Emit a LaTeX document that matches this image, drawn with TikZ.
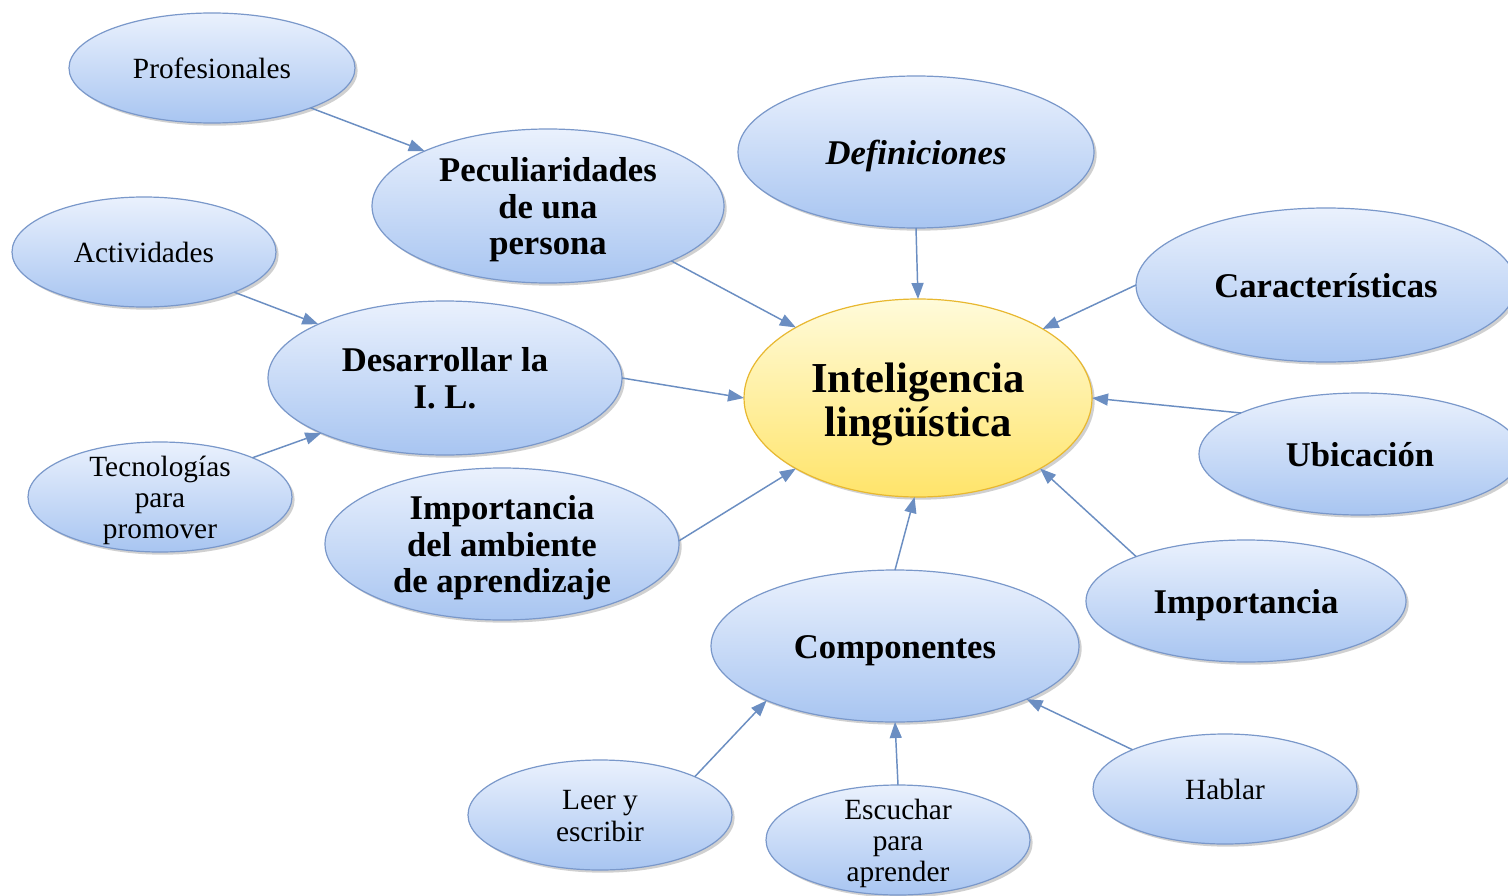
\documentclass[tikz,border=0pt]{standalone}
\usepackage{fontspec}
\setmainfont{Liberation Serif}
\usetikzlibrary{shapes.geometric,shadows,arrows.meta}
\definecolor{btop}{HTML}{EAF1FD}
\definecolor{bbot}{HTML}{A8C5F1}
\definecolor{bdraw}{HTML}{7A98CA}
\definecolor{ytop}{HTML}{FFFBDA}
\definecolor{ymid}{HTML}{FFF29E}
\definecolor{ybot}{HTML}{FFE46A}
\definecolor{ydraw}{HTML}{E8B830}
\definecolor{arrc}{HTML}{6B8EC2}
\newcommand{\lbl}[1]{\smash{\raisebox{-0.38em}{\begin{tabular}{@{}c@{}}#1\end{tabular}}}}
\begin{document}
\begin{tikzpicture}[x=0.75pt,y=-0.75pt,
  bub/.style n args={2}{ellipse, inner sep=0pt, outer sep=0pt,
     minimum width=#1*1.5pt, minimum height=#2*1.5pt,
     draw=bdraw, line width=0.9pt, top color=btop, bottom color=bbot,
     drop shadow={shadow xshift=2pt,shadow yshift=-2pt,opacity=0.3,fill=black!60}},
  center/.style={ellipse, inner sep=0pt, outer sep=0pt,
     minimum width=348*0.75pt, minimum height=198*0.75pt,
     draw=ydraw, line width=0.9pt, top color=ytop, middle color=ymid, bottom color=ybot,
     drop shadow={shadow xshift=2pt,shadow yshift=-2pt,opacity=0.3,fill=black!60}},
  small/.style={font=\fontsize{22}{23.5}\selectfont},
  big/.style={font=\fontsize{26}{27.5}\selectfont\bfseries},
  huge/.style={font=\fontsize{32}{33}\selectfont\bfseries},
  arr/.style={draw=arrc, line width=1.1pt, -{Triangle[length=12pt,width=9pt]}, arrc}]
\useasboundingbox (0,0) rectangle (1508,895);
\fill[white] (0,0) rectangle (1508,895);

\node[bub={143}{55}, small] (prof) at (212,68) {\lbl{Profesionales}};
\node[bub={176}{77}, big] (pec) at (548,206) {\lbl{Peculiaridades\\de una\\persona}};
\node[bub={178}{76}, big] (def) at (916,152) {\lbl{\itshape Definiciones}};
\node[bub={190}{77}, big] (car) at (1326,285) {\lbl{Características}};
\node[bub={132}{55}, small] (act) at (144,252) {\lbl{Actividades}};
\node[bub={177}{77}, big] (des) at (445,378) {\lbl{Desarrollar la\\I. L.}};
\node[center, huge] (intel) at (918,398) {\lbl{Inteligencia\\lingüística}};
\node[bub={161}{61}, big] (ubi) at (1360,454) {\lbl{Ubicación}};
\node[bub={132}{55}, small] (tec) at (160,497) {\lbl{Tecnologías\\para\\promover}};
\node[bub={177}{76}, big] (amb) at (502,544) {\lbl{Importancia\\del ambiente\\de aprendizaje}};
\node[bub={160}{61}, big] (imp) at (1246,601) {\lbl{Importancia}};
\node[bub={184}{76}, big] (comp) at (895,646) {\lbl{Componentes}};
\node[bub={132}{55}, small] (leer) at (600,815) {\lbl{Leer y\\escribir}};
\node[bub={132}{55}, small] (esc) at (898,840) {\lbl{Escuchar\\para\\aprender}};
\node[bub={132}{55}, small] (hab) at (1225,789) {\lbl{Hablar}};

\draw[arr] (prof.-22) -- (pec.156);
\draw[arr] (act.-24) -- (des.157);
\draw[arr] (tec.23) -- (des.204);
\draw[arr] (pec.-24) -- (intel.150);
\draw[arr] (def.-90) -- (intel.90);
\draw[arr] (car.180) -- (intel.29);
\draw[arr] (des.0) -- (intel.180);
\draw[arr] (ubi.161) -- (intel.0);
\draw[arr] (amb.1) -- (intel.210);
\draw[arr] (imp.158) -- (intel.-30);
\draw[arr] (comp.90) -- (intel.-92);
\draw[arr] (leer.22) -- (comp.203);
\draw[arr] (esc.90) -- (comp.-90);
\draw[arr] (hab.157) -- (comp.-22);
\end{tikzpicture}
\end{document}
